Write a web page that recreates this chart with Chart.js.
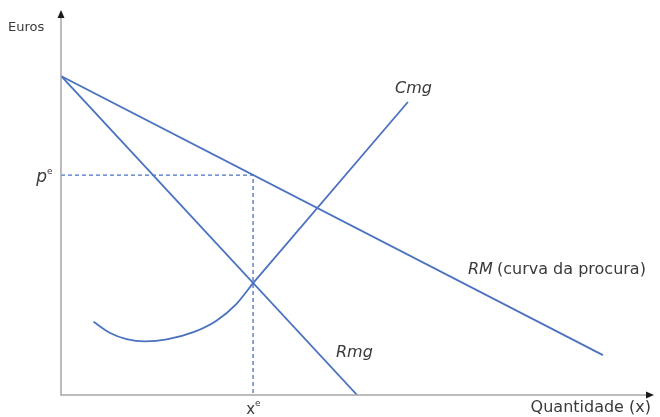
<!DOCTYPE html>
<html>
<head>
<meta charset="utf-8">
<style>
  html, body { margin: 0; padding: 0; background: #fff; }
  #wrap { width: 660px; height: 417px; }
</style>
</head>
<body>
<div id="wrap">
  <canvas id="myChart" width="660" height="417"></canvas>
</div>

<script src="https://cdn.jsdelivr.net/npm/chart.js"></script>
<script>
// values (x: quantity, y: euros, arbitrary 0-100 units)
const rmX = [0, 91.7];
const rmY = [83.3, 10.4];
const rmgX = [0, 50.1];
const rmgY = [83.3, 0];
const cmgCurveX = [5.5, 8.3, 11.1, 14.2, 17.9, 22.4, 26.3, 29.7, 32.5];
const cmgCurveY = [19.1, 16.2, 14.6, 14.0, 14.5, 16.4, 19.4, 23.8, 29.2];
const cmgLineX = [32.5, 58.7];
const cmgLineY = [29.2, 76.5];
const xE = 32.5;
const pE = 57.4;

const blue = '#4a72c0';

const pts = (xs, ys) => xs.map((x, i) => ({ x: x, y: ys[i] }));

const ctx = document.getElementById('myChart');

// axes with arrows + the text labels
const drawing = {
  id: 'drawing',
  afterDatasetsDraw(chart) {
    const c = chart.ctx;
    const a = chart.chartArea;
    const xs = chart.scales.x, ys = chart.scales.y;
    c.save();
    c.strokeStyle = '#a6a6a6';
    c.lineWidth = 1.5;
    c.beginPath();
    c.moveTo(a.left, a.top + 4);
    c.lineTo(a.left, a.bottom);
    c.lineTo(a.right - 4, a.bottom);
    c.stroke();
    c.fillStyle = '#1a1a1a';
    c.beginPath();
    c.moveTo(a.left, a.top - 2);
    c.lineTo(a.left - 3.5, a.top + 6);
    c.lineTo(a.left + 3.5, a.top + 6);
    c.closePath();
    c.fill();
    c.beginPath();
    c.moveTo(a.right + 2, a.bottom);
    c.lineTo(a.right - 6, a.bottom - 3.5);
    c.lineTo(a.right - 6, a.bottom + 3.5);
    c.closePath();
    c.fill();

    c.fillStyle = '#3a3a3a';
    c.textBaseline = 'middle';
    c.font = '13px "DejaVu Sans"';
    c.textAlign = 'left';
    c.fillText('Euros', 8, 28);
    c.font = '16px "DejaVu Sans"';
    c.textAlign = 'right';
    c.fillText('Quantidade (x)', 651, 408);

    // p^e
    c.font = 'italic 17px "DejaVu Sans"';
    c.textAlign = 'right';
    const py = ys.getPixelForValue(pE);
    c.fillText('p', 47, py + 2);
    c.font = '9px "DejaVu Sans"';
    c.textAlign = 'left';
    c.fillText('e', 47, py - 4);

    // x^e
    const px = xs.getPixelForValue(xE);
    c.font = '15px "DejaVu Sans"';
    c.textAlign = 'right';
    c.fillText('x', px + 2, 410);
    c.font = '9px "DejaVu Sans"';
    c.textAlign = 'left';
    c.fillText('e', px + 2, 404);

    c.font = 'italic 16px "DejaVu Sans"';
    c.textAlign = 'left';
    c.fillText('Cmg', 395, 89);
    c.fillText('Rmg', 336, 353);
    c.fillText('RM', 468, 270);
    c.font = '16px "DejaVu Sans"';
    c.fillText('(curva da procura)', 497, 270);
    c.restore();
  }
};

new Chart(ctx, {
  type: 'scatter',
  data: {
    datasets: [
      { data: pts(rmX, rmY), showLine: true, borderColor: blue, borderWidth: 1.8, pointRadius: 0 },
      { data: pts(rmgX, rmgY), showLine: true, borderColor: blue, borderWidth: 1.8, pointRadius: 0 },
      { data: pts(cmgCurveX, cmgCurveY), showLine: true, borderColor: blue, borderWidth: 1.8, pointRadius: 0, cubicInterpolationMode: 'monotone' },
      { data: pts(cmgLineX, cmgLineY), showLine: true, borderColor: blue, borderWidth: 1.8, pointRadius: 0 },
      { data: [{ x: 0, y: pE }, { x: xE, y: pE }, { x: xE, y: 0 }], showLine: true, borderColor: blue, borderWidth: 1.3, borderDash: [4, 3], pointRadius: 0 }
    ]
  },
  options: {
    responsive: false,
    animation: false,
    layout: { padding: { left: 61, right: 8, top: 12, bottom: 22 } },
    plugins: { legend: { display: false }, tooltip: { enabled: false } },
    scales: {
      x: { type: 'linear', min: 0, max: 100, display: false },
      y: { type: 'linear', min: 0, max: 100, display: false }
    }
  },
  plugins: [drawing]
});
</script>
</body>
</html>
